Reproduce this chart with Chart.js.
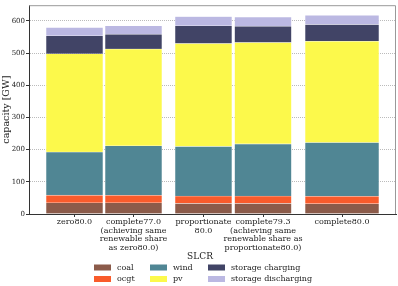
<!DOCTYPE html>
<html>
<head>
<meta charset="utf-8">
<script src="https://cdn.jsdelivr.net/npm/chart.js@4/dist/chart.umd.min.js"></script>
<style>
  html, body { margin: 0; padding: 0; background: #fff; }
  #wrap { width: 398px; height: 286px; position: relative; }
</style>
</head>
<body>
<div id="wrap"><canvas id="grafico"></canvas></div>
<script>
// Cenários (rótulos do eixo x) e posições no eixo
const cenarios = [
    ['zero80.0'],
    ['complete77.0', '(achieving same', 'renewable share', 'as zero80.0)'],
    ['proportionate', '80.0'],
    ['complete79.3', '(achieving same', 'renewable share as', 'proportionate80.0)'],
    ['complete80.0']
];
const posicoes = [0, 1, 2.186, 3.195, 4.534];

// Capacidade por tecnologia [GW]
const tecnologias = ['coal', 'ocgt', 'wind', 'pv', 'storage charging', 'storage discharging'];
const coal = [35, 35, 33, 33, 32];
const ocgt = [23.5, 23, 23, 23, 23];
const wind = [134.5, 154, 154, 162, 167];
const pv = [305, 301, 320, 315, 315];
const storageCharging = [56, 46, 55, 51, 52];
const storageDischarging = [26, 26, 29, 28, 29];
const valores = [coal, ocgt, wind, pv, storageCharging, storageDischarging];

const cores = ['#8b5b4a', '#f95b2b', '#508694', '#fcf94b', '#414466', '#bbb8e2'];
const yTicks = [0, 100, 200, 300, 400, 500, 600];
const fonte = 'DejaVu Serif';

// o último cenário tem barra mais larga: datasets separados
function criarDatasets() {
    const ds = [];
    tecnologias.forEach((tec, t) => {
        ds.push({
            label: tec,
            data: posicoes.slice(0, 4).map((x, i) => ({ x: x, y: valores[t][i] })),
            backgroundColor: cores[t],
            borderColor: 'rgba(255,255,255,0.5)',
            borderWidth: 0.6,
            barThickness: 57,
            stack: 's'
        });
    });
    tecnologias.forEach((tec, t) => {
        ds.push({
            label: tec,
            data: [{ x: posicoes[4], y: valores[t][4] }],
            backgroundColor: cores[t],
            borderColor: 'rgba(255,255,255,0.5)',
            borderWidth: 0.6,
            barThickness: 74,
            stack: 's'
        });
    });
    return ds;
}

// moldura superior/direita e legenda
const molduraLegenda = {
    id: 'molduraLegenda',
    afterDraw(chart) {
        const { ctx, chartArea: a } = chart;
        ctx.save();
        ctx.strokeStyle = '#999';
        ctx.lineWidth = 1;
        ctx.beginPath();
        ctx.moveTo(a.left, a.top + 0.5);
        ctx.lineTo(a.right - 0.5, a.top + 0.5);
        ctx.lineTo(a.right - 0.5, a.bottom);
        ctx.stroke();

        ctx.fillStyle = '#222';
        ctx.font = '9px "' + fonte + '"';
        ctx.textAlign = 'center';
        ctx.textBaseline = 'middle';
        ctx.fillText('SLCR', 200, 256.5);

        const colX = [94, 150, 208];
        const rowY = [267.5, 279];
        ctx.font = '8px "' + fonte + '"';
        ctx.textAlign = 'left';
        tecnologias.forEach((tec, t) => {
            const c = Math.floor(t / 2), r = t % 2;
            ctx.fillStyle = cores[t];
            ctx.fillRect(colX[c], rowY[r] - 3, 17, 6);
            ctx.fillStyle = '#222';
            ctx.fillText(tec, colX[c] + 23, rowY[r]);
        });
        ctx.restore();
    }
};

new Chart(document.getElementById('grafico'), {
    type: 'bar',
    data: { datasets: criarDatasets() },
    options: {
        responsive: true,
        maintainAspectRatio: false,
        animation: false,
        layout: { padding: { top: 3, right: 2, left: 0, bottom: 0 } },
        datasets: { bar: { grouped: false } },
        plugins: {
            legend: { display: false },
            tooltip: { enabled: false }
        },
        scales: {
            x: {
                type: 'linear',
                offset: false,
                min: -0.771,
                max: 5.449,
                afterBuildTicks: s => { s.ticks = posicoes.map(v => ({ value: v })); },
                afterFit: s => { s.height = 72; },
                grid: { drawOnChartArea: false, offset: false, tickLength: 3, color: '#333' },
                border: { color: '#333' },
                ticks: {
                    autoSkip: false,
                    maxRotation: 0,
                    padding: 1,
                    color: '#222',
                    font: { family: fonte, size: 8, lineHeight: 1.06 },
                    callback: v => cenarios[posicoes.indexOf(v)]
                }
            },
            y: {
                stacked: true,
                min: 0,
                max: 649,
                afterBuildTicks: s => { s.ticks = yTicks.map(v => ({ value: v })); },
                afterFit: s => { s.width = 29; },
                grid: { color: '#bbb', tickColor: '#333', tickLength: 3 },
                border: { color: '#333', dash: [1, 1] },
                ticks: {
                    padding: 1,
                    color: '#222',
                    font: { family: fonte, size: 7 }
                },
                title: {
                    display: true,
                    text: 'capacity [GW]',
                    color: '#222',
                    padding: { top: 1, bottom: 0 },
                    font: { family: fonte, size: 9.5 }
                }
            }
        }
    },
    plugins: [molduraLegenda]
});
</script>
</body>
</html>
